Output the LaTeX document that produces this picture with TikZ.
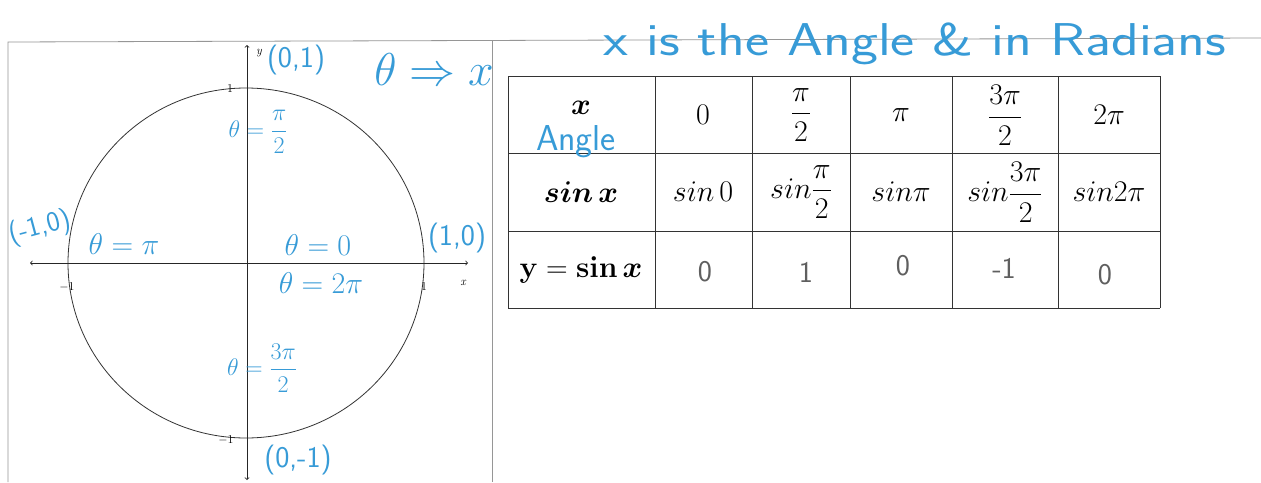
\documentclass[tikz,border=0pt]{standalone}
\usepackage{fix-cm}
\usepackage{amsmath}
\usepackage{bm}
\definecolor{pen}{RGB}{55,155,215}
\definecolor{pencil}{RGB}{95,95,95}
\definecolor{framec}{RGB}{150,150,150}
\tikzset{
  pen/.style={text=pen, inner sep=0pt, font=\sffamily\fontsize{30}{32}\selectfont},
  bigpen/.style={text=pen, inner sep=0pt, font=\sffamily\fontsize{46}{50}\selectfont},
  tab/.style={inner sep=0pt, font=\fontsize{30}{34}\selectfont},
  pencilv/.style={text=pencil, inner sep=0pt, font=\sffamily\fontsize{30}{32}\selectfont},
  ticklbl/.style={inner sep=0pt, font=\fontsize{12}{14}\selectfont},
  gridline/.style={draw=black!80, line width=1pt},
  axis/.style={draw=black!85, line width=0.8pt, <->}
}
\begin{document}
\begin{tikzpicture}[x=1pt,y=-1pt]
\useasboundingbox[fill=white] (0,0) rectangle (1261,482);
% frame
\draw[framec, line width=0.8pt] (8,482) -- (8,42) -- (1261,38);
\draw[framec, line width=0.8pt] (492,41) -- (492,482);
% circle and axes
\coordinate (O) at (246,263);
\coordinate (xl) at (30,263);
\coordinate (xr) at (468,263);
\coordinate (yt) at (247,45);
\coordinate (yb) at (247,480);
\draw[black!80, line width=0.8pt] (O) ellipse [x radius=178, y radius=175];
\draw[axis] (xl) -- (xr);
\draw[axis] (yb) -- (yt);
\node[ticklbl] (ly) at (259,53) {\itshape y};
\node[ticklbl] (lx) at (463,283) {\itshape x};
\node[ticklbl] (t1) at (230,89) {1};
\node[ticklbl] (tm1) at (226,440) {$-$1};
\node[ticklbl] (lm1) at (67,287) {$-$1};
\node[ticklbl] (l1) at (424,287) {1};
% handwritten annotations
\node[pen] (p01) at (296,60) {(0,1)};
\node[pen, font=\sffamily\fontsize{24}{26}\selectfont] (th2) at (258,132) {$\theta=\dfrac{\pi}{2}$};
\node[pen, rotate=15, font=\sffamily\fontsize{28}{30}\selectfont] (pm10) at (40,228) {(-1,0)};
\node[pen] (thpi) at (124,244) {$\theta=\pi$};
\node[pen] (th0) at (318,245) {$\theta=0$};
\node[pen] (th2pi) at (321,283) {$\theta=2\pi$};
\node[pen] (p10) at (457,238) {(1,0)};
\node[pen, font=\sffamily\fontsize{24}{26}\selectfont] (th3) at (262,368) {$\theta=\dfrac{3\pi}{2}$};
\node[pen] (p0m1) at (298,460) {(0,-1)};
\node[bigpen] (thx) at (434,70) {$\theta\Rightarrow x$};
\node[bigpen, xscale=1.25] (title) at (915,44) {x is the Angle \& in Radians};
% table
\foreach \xx in {508,655,752,850,952,1058,1160}
  \draw[gridline] (\xx,76) -- (\xx,308);
\foreach \yy in {76,153,231,308}
  \draw[gridline] (508,\yy) -- (1160,\yy);
\node[tab] (h0) at (581,108) {$\bm{x}$};
\node[tab] (h1) at (703,115) {$0$};
\node[tab] (h2) at (801,115) {$\dfrac{\pi}{2}$};
\node[tab] (h3) at (901,115) {$\pi$};
\node[tab] (h4) at (1005,115) {$\dfrac{3\pi}{2}$};
\node[tab] (h5) at (1109,115) {$2\pi$};
\node[tab] (s0) at (581,192) {$\bm{sin\,x}$};
\node[tab] (s1) at (703,192) {$sin\,0$};
\node[tab] (s2) at (801,192) {$sin\dfrac{\pi}{2}$};
\node[tab] (s3) at (901,192) {$sin\pi$};
\node[tab] (s4) at (1005,192) {$sin\dfrac{3\pi}{2}$};
\node[tab] (s5) at (1109,192) {$sin2\pi$};
\node[tab] (r0) at (581,270) {$\mathbf{y=sin}\,\bm{x}$};
\node[pencilv] (v1) at (705,272) {0};
\node[pencilv] (v2) at (806,272) {1};
\node[pencilv] (v3) at (903,266) {0};
\node[pencilv] (v4) at (1004,268) {-1};
\node[pencilv] (v5) at (1105,275) {0};
\node[pen, font=\sffamily\fontsize{36}{38}\selectfont] (angle) at (576,142) {Angle};
\end{tikzpicture}
\end{document}
